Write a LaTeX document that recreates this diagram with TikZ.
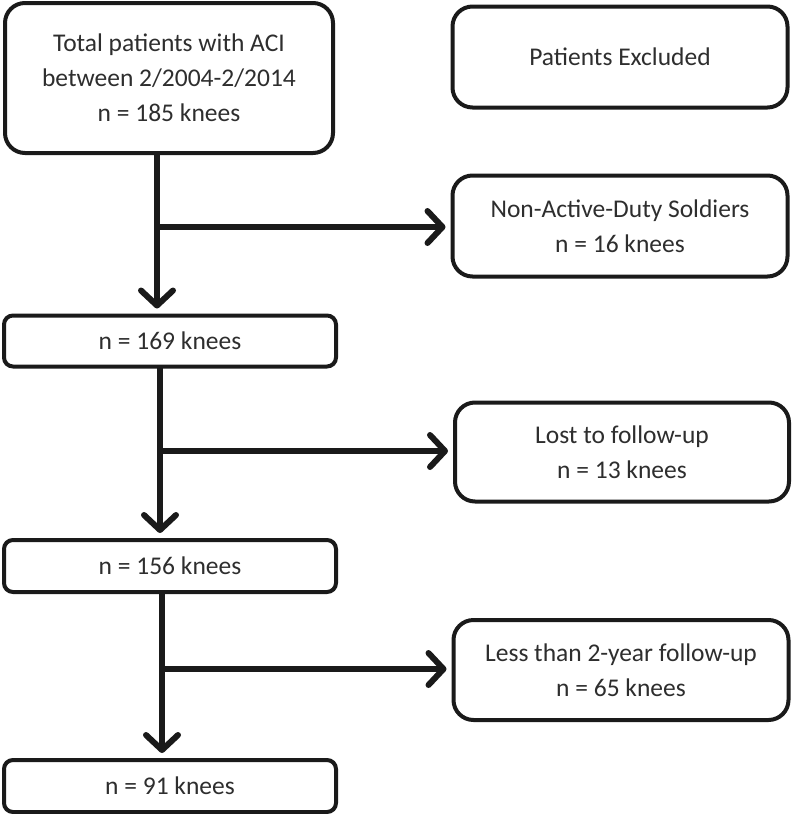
\documentclass[tikz,border=0pt]{standalone}
\usepackage{fontspec}
\setmainfont{Carlito}
\usetikzlibrary{arrows.meta,calc}
\definecolor{txt}{HTML}{2E2E2E}
\definecolor{ln}{HTML}{1A1A1A}
\tikzset{
  box/.style={draw=ln, line width=4pt, fill=white, rounded corners=20pt, text=txt,
    align=center, inner sep=0pt, font=\fontsize{25.5}{35}\selectfont},
  sbox/.style={box, rounded corners=9pt},
  arr/.style={draw=ln, line width=6pt, line cap=round,
    -{Straight Barb[length=15pt, width=32pt, round]}, shorten >=5pt}
}
\begin{document}
\begin{tikzpicture}[x=1pt, y=-1pt]
\useasboundingbox (0,0) rectangle (792,814);
\node[box, minimum width=328pt, minimum height=150pt] (b1) at (169,78) {Total patients with ACI\\between 2/2004-2/2014\\n = 185 knees};
\node[box, minimum width=335pt, minimum height=101pt] (b2) at (620,57) {Patients Excluded};
\node[box, minimum width=335pt, minimum height=101pt] (b3) at (620,226) {Non-Active-Duty Soldiers\\n = 16 knees};
\node[sbox, minimum width=332pt, minimum height=51pt] (b4) at (170,341) {n = 169 knees};
\node[box, minimum width=334pt, minimum height=99pt] (b5) at (622,452) {Lost to follow-up\\n = 13 knees};
\node[sbox, minimum width=332pt, minimum height=52pt] (b6) at (170,566) {n = 156 knees};
\node[box, minimum width=335pt, minimum height=100pt] (b7) at (621,670) {Less than 2-year follow-up\\n = 65 knees};
\node[sbox, minimum width=332pt, minimum height=52pt] (b8) at (170,786) {n = 91 knees};
\coordinate (j1) at (157,227);
\coordinate (j2) at (160,451);
\coordinate (j3) at (162,669);
\draw[arr] (j1 |- b1.south) -- (j1 |- b4.north);
\draw[arr] (j1) -- (j1 -| b3.west);
\draw[arr] (j2 |- b4.south) -- (j2 |- b6.north);
\draw[arr] (j2) -- (j2 -| b5.west);
\draw[arr] (j3 |- b6.south) -- (j3 |- b8.north);
\draw[arr] (j3) -- (j3 -| b7.west);
\end{tikzpicture}
\end{document}
